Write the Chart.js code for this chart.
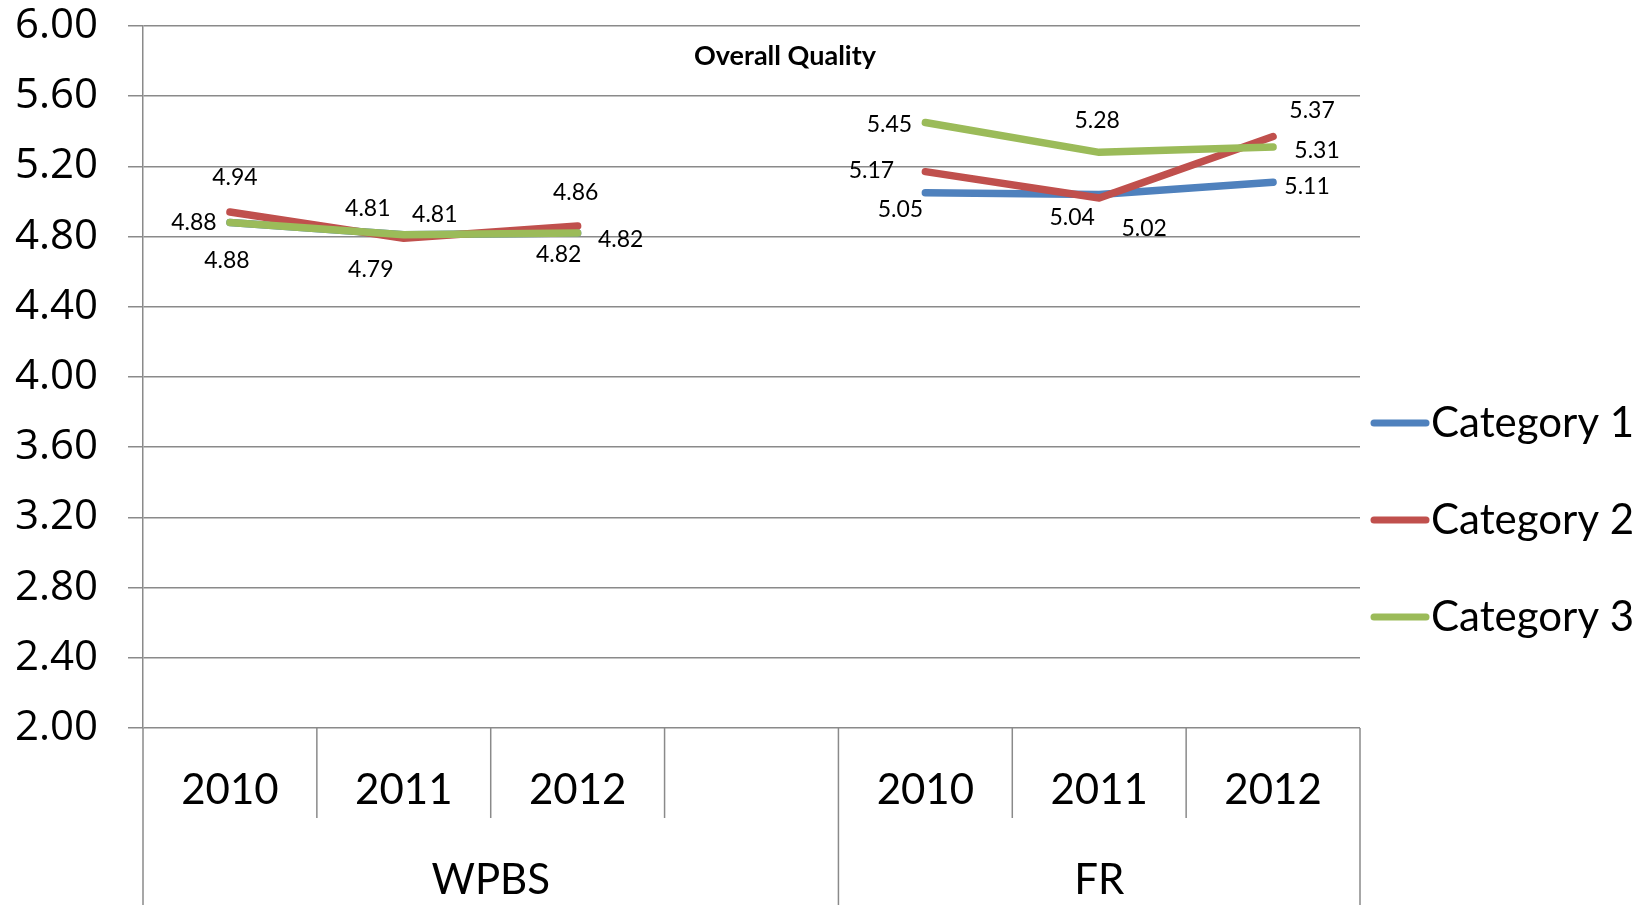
<!DOCTYPE html>
<html>
<head>
<meta charset="utf-8">
<script src="https://cdn.jsdelivr.net/npm/chart.js@4/dist/chart.umd.min.js"></script>
<style>
  html, body { margin: 0; padding: 0; background: #fff; }
  #wrap { width: 1652px; height: 905px; position: relative; }
</style>
</head>
<body>
<div id="wrap"><canvas id="chart"></canvas></div>
<script>
// chart data
var years = ['2010', '2011', '2012', '', '2010', '2011', '2012'];
var groupLabels = ['WPBS', 'FR'];
var groupSizes = [4, 3];
var seriesNames = ['Category 1', 'Category 2', 'Category 3'];
var cat1 = [4.88, 4.81, 4.82, null, 5.05, 5.04, 5.11];
var cat2 = [4.94, 4.79, 4.86, null, 5.17, 5.02, 5.37];
var cat3 = [4.88, 4.81, 4.82, null, 5.45, 5.28, 5.31];
var yTicks = [2.0, 2.4, 2.8, 3.2, 3.6, 4.0, 4.4, 4.8, 5.2, 5.6, 6.0];
var chartTitle = 'Overall Quality';

// styling
var colors = ['#4F81BD', '#C0504D', '#9BBB59'];
var gridColor = '#8a8a8a';
var labelFont = 'Lato, "Open Sans", sans-serif';
// where each value label sits relative to its point (px)
var labelOffsets = [
  [[-3, 38], [31, -20], [-19, 21], null, [-25, 17], [-27, 23], [34, 4]],
  [[5, -34], [-33, 31], [-2, -33], null, [-54, -1], [45, 31], [39, -26]],
  [[-36, 0], [-36, -26], [43, 6], null, [-36, 2], [-2, -32], [44, 3]]
];

var valueLabels = {
  id: 'valueLabels',
  afterDatasetsDraw: function(chart) {
    var ctx = chart.ctx;
    ctx.save();
    ctx.font = '23px ' + labelFont;
    ctx.fillStyle = '#000';
    ctx.textAlign = 'center';
    ctx.textBaseline = 'middle';
    chart.data.datasets.forEach(function(ds, di) {
      var meta = chart.getDatasetMeta(di);
      meta.data.forEach(function(pt, i) {
        var v = ds.data[i];
        if (v === null) return;
        var off = labelOffsets[di][i];
        ctx.fillText(v.toFixed(2), pt.x + off[0], pt.y + off[1]);
      });
    });
    ctx.restore();
  }
};

var bottomAxis = {
  id: 'bottomAxis',
  afterDraw: function(chart) {
    var ctx = chart.ctx;
    var x = chart.scales.x;
    var area = chart.chartArea;
    var n = years.length;
    var bottom = chart.height;
    var bounds = [area.left];
    for (var i = 1; i < n; i++) {
      bounds.push((x.getPixelForValue(i - 1) + x.getPixelForValue(i)) / 2);
    }
    bounds.push(area.right);

    var groupEdges = [0];
    groupSizes.forEach(function(s, i) { groupEdges.push(groupEdges[i] + s); });

    ctx.save();
    ctx.strokeStyle = gridColor;
    ctx.lineWidth = 1.5;
    bounds.forEach(function(bx, i) {
      var long = groupEdges.indexOf(i) !== -1;
      ctx.beginPath();
      ctx.moveTo(bx, area.bottom);
      ctx.lineTo(bx, long ? bottom : area.bottom + 90);
      ctx.stroke();
    });

    ctx.fillStyle = '#000';
    ctx.textAlign = 'center';
    ctx.textBaseline = 'middle';
    ctx.font = '42px ' + labelFont;
    years.forEach(function(lbl, i) {
      ctx.fillText(lbl, x.getPixelForValue(i), area.bottom + 62);
    });
    groupLabels.forEach(function(lbl, g) {
      var cx = (bounds[groupEdges[g]] + bounds[groupEdges[g + 1]]) / 2;
      ctx.fillText(lbl, cx, area.bottom + 152);
    });

    // title
    ctx.font = 'bold 27px ' + labelFont;
    ctx.fillText(chartTitle, 785, 56);

    // legend
    ctx.textAlign = 'left';
    ctx.font = '42px ' + labelFont;
    ctx.lineCap = 'round';
    chart.data.datasets.forEach(function(ds, di) {
      var ly = 423 + di * 97;
      ctx.strokeStyle = ds.borderColor;
      ctx.lineWidth = 7;
      ctx.beginPath();
      ctx.moveTo(1374, ly);
      ctx.lineTo(1426, ly);
      ctx.stroke();
      ctx.fillText(ds.label, 1431, ly);
    });
    ctx.restore();
  }
};

function makeSet(i, data) {
  return {
    label: seriesNames[i],
    data: data,
    borderColor: colors[i],
    backgroundColor: colors[i],
    borderWidth: 7.5,
    borderCapStyle: 'round',
    borderJoinStyle: 'round',
    pointRadius: 0,
    pointHoverRadius: 0,
    spanGaps: false,
    order: 2 - i
  };
}

new Chart(document.getElementById('chart'), {
  type: 'line',
  data: {
    labels: years,
    datasets: [makeSet(0, cat1), makeSet(1, cat2), makeSet(2, cat3)]
  },
  options: {
    responsive: true,
    maintainAspectRatio: false,
    animation: false,
    layout: { padding: { left: 0, top: 26, right: 292, bottom: 177 } },
    plugins: {
      legend: { display: false },
      title: { display: false },
      tooltip: { enabled: false }
    },
    scales: {
      x: {
        display: false,
        offset: true
      },
      y: {
        min: yTicks[0],
        max: yTicks[yTicks.length - 1],
        afterFit: function(s) {
          s.width = 143;
          s.paddingTop = 0;
          s.paddingBottom = 0;
        },
        afterBuildTicks: function(s) {
          s.ticks = yTicks.map(function(v) { return { value: v }; });
        },
        ticks: {
          padding: 30,
          color: '#000',
          font: { family: '"Open Sans", "DejaVu Sans", sans-serif', size: 42, lineHeight: 1.2 },
          callback: function(v) { return Number(v).toFixed(2); }
        },
        grid: {
          color: gridColor,
          lineWidth: 1.5,
          tickLength: 15,
          tickColor: gridColor
        },
        border: { display: true, color: gridColor, width: 1.5 }
      }
    }
  },
  plugins: [valueLabels, bottomAxis]
});
</script>
</body>
</html>
